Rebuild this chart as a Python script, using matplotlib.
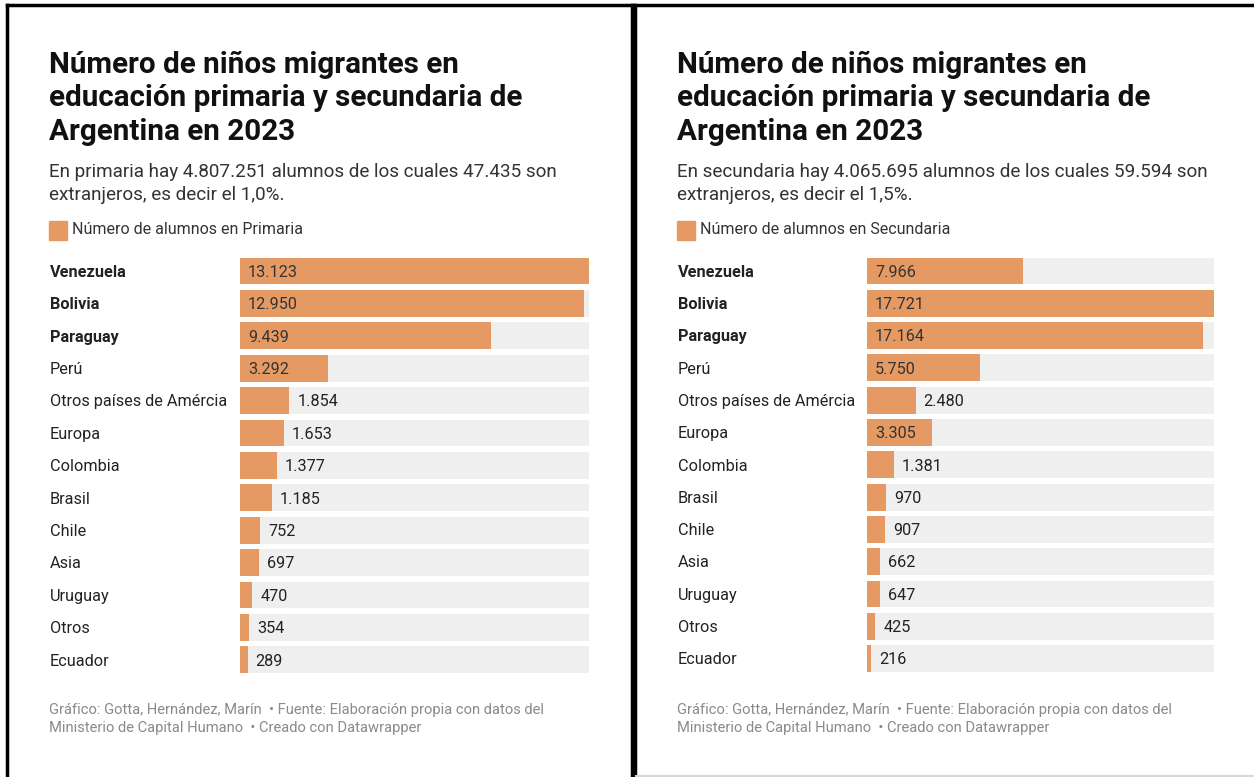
import matplotlib.pyplot as plt
from matplotlib.lines import Line2D
from matplotlib.transforms import blended_transform_factory

plt.rcParams['font.family'] = ['Roboto', 'DejaVu Sans']

# Datos
paises = ["Venezuela", "Bolivia", "Paraguay", "Perú", "Otros países de Amércia",
          "Europa", "Colombia", "Brasil", "Chile", "Asia", "Uruguay", "Otros", "Ecuador"]
primaria = [13123, 12950, 9439, 3292, 1854, 1653, 1377, 1185, 752, 697, 470, 354, 289]
secundaria = [7966, 17721, 17164, 5750, 2480, 3305, 1381, 970, 907, 662, 647, 425, 216]
destacados = ["Venezuela", "Bolivia", "Paraguay"]

titulo = "Número de niños migrantes en\neducación primaria y secundaria de\nArgentina en 2023"
sub_prim = ["En primaria hay 4.807.251 alumnos de los cuales 47.435 son",
            "extranjeros, es decir el 1,0%."]
sub_sec = ["En secundaria hay 4.065.695 alumnos de los cuales 59.594 son",
           "extranjeros, es decir el 1,5%."]
pie = ["Gráfico: Gotta, Hernández, Marín  • Fuente: Elaboración propia con datos del",
       "Ministerio de Capital Humano  • Creado con Datawrapper"]

naranja = "#E69A63"
gris_fondo = "#EFEFEF"

W, H = 1254, 777
fig = plt.figure(figsize=(W / 100, H / 100), dpi=100)
fig.patch.set_facecolor("white")


def fx(x):
    return x / W


def fy(y):
    return 1 - y / H


def fmt(v):
    return f"{v:,}".replace(",", ".")


def panel(x0, bx0, bx1, valores, subtitulo, leyenda, row0, row_h):
    # textos de cabecera
    lineas = titulo.split("\n")
    for i, l in enumerate(lineas):
        fig.text(fx(x0), fy(73 + i * 33.5), l, fontsize=21.3, fontweight="bold",
                 color="#111111", va="baseline", ha="left")
    for i, l in enumerate(subtitulo):
        fig.text(fx(x0), fy(177 + i * 23), l, fontsize=13.6, color="#333333",
                 va="baseline", ha="left")
    # leyenda
    fig.patches.append(plt.Rectangle((fx(x0), fy(240)), fx(18), 19 / H,
                                     transform=fig.transFigure, color=naranja))
    fig.text(fx(x0 + 23), fy(234.5), leyenda, fontsize=11.5, color="#333333",
             va="baseline", ha="left")

    n = len(valores)
    top = row0 - row_h / 2
    ax = fig.add_axes([fx(bx0), fy(top + n * row_h), (bx1 - bx0) / W, n * row_h / H])
    vmax = max(valores)
    y = list(range(n))
    ax.barh(y, [vmax] * n, height=0.83, color=gris_fondo, zorder=1)
    ax.barh(y, valores, height=0.83, color=naranja, zorder=2)
    ax.set_xlim(0, vmax)
    ax.set_ylim(n - 0.5, -0.5)
    ax.axis("off")

    tr = blended_transform_factory(fig.transFigure, ax.transData)
    for i, (p, v) in enumerate(zip(paises, valores)):
        ax.text(fx(x0 + 1), i + 0.04, p, transform=tr, fontsize=11.7,
                fontweight="bold" if p in destacados else "normal",
                color="#222222", va="center", ha="left")
        if v / vmax > 0.16:
            ax.text(vmax * 8 / (bx1 - bx0), i + 0.04, fmt(v), fontsize=11.7,
                    color="#333333", va="center", ha="left", zorder=3)
        else:
            ax.text(v + vmax * 8 / (bx1 - bx0), i + 0.04, fmt(v), fontsize=11.7,
                    color="#222222", va="center", ha="left", zorder=3)

    for i, l in enumerate(pie):
        fig.text(fx(x0), fy(714 + i * 18), l, fontsize=10.6, color="#8A8A8A",
                 va="baseline", ha="left")


panel(49, 240, 589, primaria, sub_prim, "Número de alumnos en Primaria", 271, 32.4)
panel(677, 867, 1214, secundaria, sub_sec, "Número de alumnos en Secundaria", 271, 32.3)

# marcos de los paneles
negro = dict(color="black", lw=2.5, transform=fig.transFigure)
fig.add_artist(Line2D([fx(7), fx(7)], [fy(5), fy(H + 5)], **negro))
fig.add_artist(Line2D([fx(7), fx(632)], [fy(5), fy(5)], **negro))
fig.add_artist(Line2D([fx(632), fx(632)], [fy(5), fy(H + 5)], **negro))
fig.add_artist(Line2D([fx(635), fx(635)], [fy(5), fy(H + 5)], **negro))
fig.add_artist(Line2D([fx(635), fx(W + 5)], [fy(5), fy(5)], **negro))
fig.add_artist(Line2D([fx(636), fx(W)], [fy(776), fy(776)], color="#D8D8D8", lw=1.5,
                      transform=fig.transFigure))

fig.savefig("out.png", dpi=100)
